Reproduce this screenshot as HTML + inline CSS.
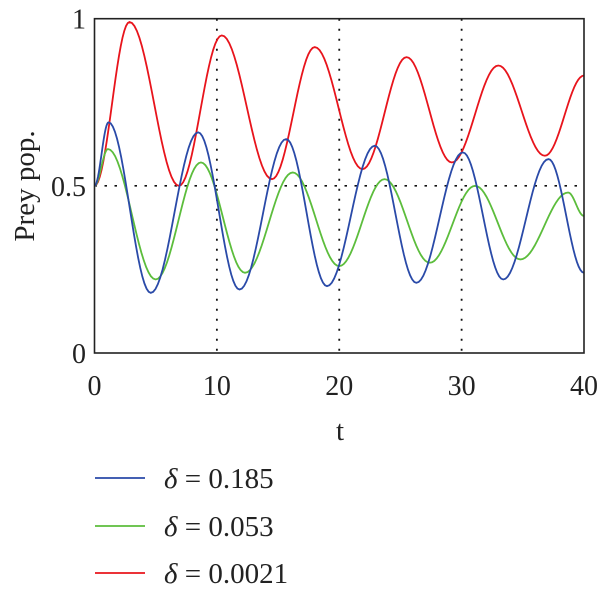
<!DOCTYPE html>
<html><head><meta charset="utf-8"><style>
body{margin:0;background:#fff}
svg{display:block;font-family:"Liberation Serif",serif}
</style></head><body>
<svg width="600" height="593" viewBox="0 0 600 593">
<g id="grid"></g>
<g id="series"></g>
<rect x="94.5" y="18.7" width="489.5" height="334.3" fill="none" stroke="#222" stroke-width="1.6"/>
<g id="ticks" font-size="28" fill="#222"></g>
<text x="340" y="440" font-size="29" text-anchor="middle" fill="#222">t</text>
<text transform="translate(34,186) rotate(-90)" font-size="29" text-anchor="middle" fill="#222">Prey pop.</text>
<g id="legend"></g>
</svg>
<script>
const xTicks=[0,10,20,30,40];
const yTicks=[0,0.5,1];
const yTickLabels=["0","0.5","1"];
const blueT=[0,1.15,4.6,8.47,11.85,15.66,19.0,22.9,26.3,30.1,33.4,37.1,40];
const blueV=[0.5,0.69,0.18,0.66,0.19,0.64,0.20,0.62,0.21,0.60,0.22,0.58,0.24];
const greenT=[0,1.1,5.0,8.7,12.3,16.2,20.0,23.7,27.4,31.1,34.8,38.7,40];
const greenV=[0.5,0.61,0.22,0.57,0.24,0.54,0.26,0.52,0.27,0.50,0.28,0.48,0.41];
const redT=[0,2.86,6.9,10.4,14.5,18.0,21.9,25.5,29.2,33.0,36.8,40];
const redV=[0.5,0.99,0.50,0.95,0.52,0.915,0.55,0.885,0.57,0.86,0.59,0.83];
const legendLabels=["0.185","0.053","0.0021"];
const NS="http://www.w3.org/2000/svg";
const X0=94.5,X1=584,Y0=353,Y1=18.7;
const sx=t=>X0+(t-0)/(40-0)*(X1-X0);
const sy=v=>Y0-(v-0)/(1-0)*(Y0-Y1);
function mk(tag,attrs,parent){const e=document.createElementNS(NS,tag);for(const k in attrs)e.setAttribute(k,attrs[k]);parent.appendChild(e);return e;}
const grid=document.getElementById('grid');
[10,20,30].forEach(t=>{
 const l=mk('line',{x1:sx(t),x2:sx(t),y1:Y1,y2:Y0,stroke:'#111','stroke-width':1.8,'stroke-dasharray':'2 8'},grid);
 
 
});
const hl=mk('line',{x1:X0,x2:X1,y1:sy(0.5),y2:sy(0.5),stroke:'#111','stroke-width':1.6,'stroke-dasharray':'2.5 7.5'},grid);


const ticks=document.getElementById('ticks');
xTicks.forEach(t=>{
 const e=mk('text',{x:sx(t),y:395,'text-anchor':'middle'},ticks);e.textContent=t;
 
 
});
yTicks.forEach((v,i)=>{
 const e=mk('text',{x:86,y:sy(v)+10,'text-anchor':'end'},ticks);e.textContent=yTickLabels[i];
 
 
});
function curve(T,V){
 let d='M'+sx(T[0]).toFixed(2)+' '+sy(V[0]).toFixed(2);
 for(let i=0;i<T.length-1;i++){
  for(let k=1;k<=20;k++){
   const f=k/20,t=T[i]+(T[i+1]-T[i])*f;
   const w=(1-Math.cos(Math.PI*f))/2;
   const v=V[i]+(V[i+1]-V[i])*w;
   d+=' L'+sx(t).toFixed(2)+' '+sy(v).toFixed(2);
  }
 }
 return d;
}
const series=document.getElementById('series');
const sData=[[redT,redV,'#e8141c','series-delta-0.0021'],[greenT,greenV,'#5cbd3c','series-delta-0.053'],[blueT,blueV,'#2a4aa8','series-delta-0.185']];
sData.forEach(s=>{
 const p=mk('path',{d:curve(s[0],s[1]),fill:'none',stroke:s[2],'stroke-width':1.8},series);
 
 
});
const legend=document.getElementById('legend');
const lcol=['#2a4aa8','#5cbd3c','#e8141c'];
const ly=[478,526,573];
legendLabels.forEach((lab,i)=>{
 const l=mk('line',{x1:95,x2:145,y1:ly[i],y2:ly[i],stroke:lcol[i],'stroke-width':1.8},legend);
 
 
 const t=mk('text',{x:164,y:ly[i]+10,'font-size':29,fill:'#222'},legend);
 t.innerHTML='<tspan font-style="italic">δ</tspan> = '+lab;
 
 
});
</script>
</body></html>
